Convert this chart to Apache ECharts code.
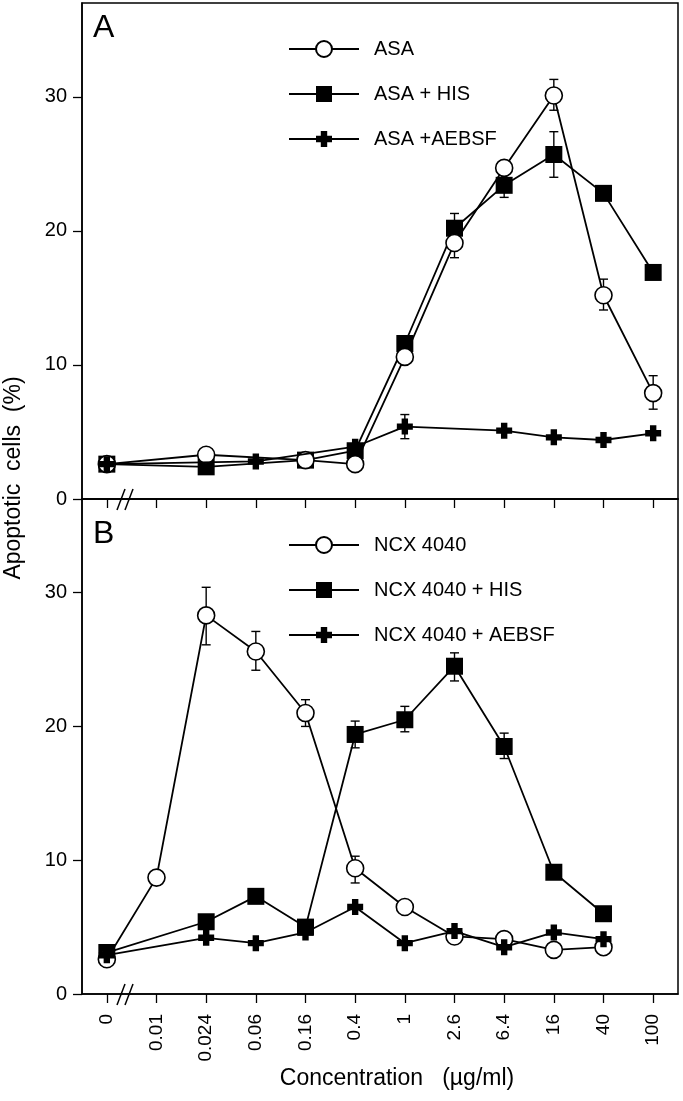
<!DOCTYPE html>
<html>
<head>
<meta charset="utf-8">
<script src="https://cdn.jsdelivr.net/npm/echarts@6/dist/echarts.min.js"></script>
<style>
html,body{margin:0;padding:0;background:#fff;}
#chart{width:683px;height:1101px;}
</style>
</head>
<body>
<div id="chart"></div>
<script>
// ---- data ----
var categories = ['0','0.01','0.024','0.06','0.16','0.4','1','2.6','6.4','16','40','100'];
var yTicks = [0, 10, 20, 30];

// Panel A
var asa      = [2.6, null, 3.3, null, 2.9, 2.6, 10.6, 19.1, 24.7, 30.1, 15.2, 7.9];
var asaHis   = [2.6, null, 2.4, null, 2.9, 3.6, 11.6, 20.2, 23.4, 25.7, 22.8, 16.9];
var asaAebsf = [2.6, null, null, 2.8, null, 3.9, 5.4, null, 5.1, 4.6, 4.4, 4.9];
var asaErrHi      = [null,null,null,null,null,null,null,null,null,31.3,16.4,9.2];
var asaErrLo      = [null,null,null,null,null,null,null,18.0,null,29.0,14.1,6.7];
var asaHisErrHi   = [null,null,null,null,null,null,null,21.3,null,27.4,null,null];
var asaHisErrLo   = [null,null,null,null,null,null,null,null,22.5,24.0,null,null];
var asaAebsfErrHi = [null,null,null,null,null,null,6.3,null,null,null,null,null];
var asaAebsfErrLo = [null,null,null,null,null,null,4.5,null,null,null,null,null];

// Panel B
var ncx      = [2.6, 8.7, 28.3, 25.6, 21.0, 9.4, 6.5, 4.3, 4.1, 3.3, 3.5, null];
var ncxHis   = [3.1, null, 5.4, 7.3, 5.0, 19.4, 20.5, 24.5, 18.5, 9.1, 6.0, null];
var ncxAebsf = [2.9, null, 4.2, 3.8, 4.6, 6.5, 3.8, 4.7, 3.5, 4.6, 4.1, null];
var ncxErrHi    = [null,null,30.4,27.1,22.0,10.3,null,null,null,null,null,null];
var ncxErrLo    = [null,null,26.1,24.2,20.0,8.3,null,null,null,null,null,null];
var ncxHisErrHi = [null,null,null,null,null,20.4,21.5,25.5,19.5,null,null,null];
var ncxHisErrLo = [null,null,null,null,null,18.4,19.6,23.4,17.6,null,null,null];

var namesA = ['ASA', 'ASA + HIS', 'ASA +AEBSF'];
var namesB = ['NCX 4040', 'NCX 4040 + HIS', 'NCX 4040 + AEBSF'];

// ---- styling ----
var FONT = "'Liberation Sans', Arial, Helvetica, sans-serif";
var crossPath = 'path://M3,0 H7 V3 H10 V7 H7 V10 H3 V7 H0 V3 H3 Z';

function lineSeries(name, data, kind, axisIdx) {
  var s = {
    name: name, type: 'line', data: data, connectNulls: true,
    xAxisIndex: axisIdx, yAxisIndex: axisIdx,
    lineStyle: {color: '#000', width: 1.8},
    showAllSymbol: true, animation: false, z: 3
  };
  if (kind === 'circle') {
    s.symbol = 'circle'; s.symbolSize = 17;
    s.itemStyle = {color: '#fff', borderColor: '#000', borderWidth: 1.6};
    s.z = 4;
  } else if (kind === 'square') {
    s.symbol = 'rect'; s.symbolSize = 17;
    s.itemStyle = {color: '#000', borderColor: '#000', borderWidth: 0};
    s.z = 3;
  } else {
    s.symbol = crossPath; s.symbolSize = 16;
    s.itemStyle = {color: '#000', borderWidth: 0};
    s.z = 5;
  }
  return s;
}

function errData(vals, errs) {
  var out = [];
  for (var i = 0; i < vals.length; i++) {
    if (errs[i] != null && vals[i] != null) out.push([i, vals[i], errs[i]]);
  }
  return out;
}

function errSeries(data, axisIdx) {
  return {
    type: 'custom', xAxisIndex: axisIdx, yAxisIndex: axisIdx, z: 2, animation: false,
    silent: true, data: data,
    renderItem: function (params, api) {
      var p0 = api.coord([api.value(0), api.value(1)]);
      var p1 = api.coord([api.value(0), api.value(2)]);
      var w = 4.5;
      var st = {stroke: '#000', lineWidth: 1.4, fill: null};
      return {
        type: 'group',
        children: [
          {type: 'line', shape: {x1: p0[0], y1: p0[1], x2: p1[0], y2: p1[1]}, style: st},
          {type: 'line', shape: {x1: p1[0] - w, y1: p1[1], x2: p1[0] + w, y2: p1[1]}, style: st}
        ]
      };
    }
  };
}

function xAxis(idx, showLabels) {
  return {
    type: 'category', data: categories, gridIndex: idx, boundaryGap: true,
    axisLine: {show: true, lineStyle: {color: '#000', width: 1.5}},
    axisTick: {show: true, alignWithLabel: true, length: 9, inside: false, lineStyle: {color: '#000', width: 1.3}},
    axisLabel: {show: showLabels, rotate: 90, margin: 20, fontSize: 19, color: '#000', fontFamily: FONT},
    splitLine: {show: false}
  };
}
function yAxis(idx) {
  return {
    type: 'value', gridIndex: idx, min: 0, max: 37, interval: 10,
    axisLine: {show: true, lineStyle: {color: '#000', width: 1.5}},
    axisTick: {show: true, length: 9, lineStyle: {color: '#000', width: 1.3}},
    axisLabel: {show: true, margin: 15, fontSize: 20, color: '#000', fontFamily: FONT,
      showMaxLabel: false,
      formatter: function (v) { return yTicks.indexOf(v) >= 0 ? String(v) : ''; }},
    splitLine: {show: false}
  };
}

function legend(names, top) {
  return {
    data: names, orient: 'vertical', left: 283, top: top,
    itemWidth: 70, itemHeight: 20, itemGap: 25,
    textStyle: {fontSize: 20, color: '#000', fontFamily: FONT, padding: [0, 0, 0, 10]},
    selectedMode: false
  };
}

function breakMark(y) {
  return [
    {type: 'line', shape: {x1: 117, y1: y + 11, x2: 125, y2: y - 10}, style: {stroke: '#000', lineWidth: 1.5}, z: 10},
    {type: 'line', shape: {x1: 125, y1: y + 11, x2: 133, y2: y - 10}, style: {stroke: '#000', lineWidth: 1.5}, z: 10}
  ];
}

var chart = echarts.init(document.getElementById('chart'), null, {renderer: 'canvas'});
var option = {
  backgroundColor: '#fff',
  animation: false,
  textStyle: {fontFamily: FONT},
  grid: [
    {left: 82, top: 3, width: 596, height: 496, show: true, borderColor: '#000', borderWidth: 1.5, backgroundColor: 'transparent'},
    {left: 82, top: 499, width: 596, height: 495, show: true, borderColor: '#000', borderWidth: 1.5, backgroundColor: 'transparent'}
  ],
  xAxis: [xAxis(0, false), xAxis(1, true)],
  yAxis: [yAxis(0), yAxis(1)],
  legend: [legend(namesA, 34), legend(namesB, 530)],
  series: [
    errSeries(errData(asa, asaErrHi).concat(errData(asa, asaErrLo))
      .concat(errData(asaHis, asaHisErrHi)).concat(errData(asaHis, asaHisErrLo))
      .concat(errData(asaAebsf, asaAebsfErrHi)).concat(errData(asaAebsf, asaAebsfErrLo)), 0),
    lineSeries(namesA[1], asaHis, 'square', 0),
    lineSeries(namesA[0], asa, 'circle', 0),
    lineSeries(namesA[2], asaAebsf, 'cross', 0),
    errSeries(errData(ncx, ncxErrHi).concat(errData(ncx, ncxErrLo))
      .concat(errData(ncxHis, ncxHisErrHi)).concat(errData(ncxHis, ncxHisErrLo)), 1),
    lineSeries(namesB[1], ncxHis, 'square', 1),
    lineSeries(namesB[0], ncx, 'circle', 1),
    lineSeries(namesB[2], ncxAebsf, 'cross', 1)
  ],
  graphic: [
    {type: 'text', left: 93, top: 12, style: {text: 'A', fontSize: 32, fill: '#000', fontFamily: FONT}},
    {type: 'text', left: 93, top: 518, style: {text: 'B', fontSize: 32, fill: '#000', fontFamily: FONT}},
    {type: 'text', x: 14, y: 478, rotation: Math.PI / 2,
      style: {text: 'Apoptotic  cells  (%)', fontSize: 23, fill: '#000', fontFamily: FONT, align: 'center', verticalAlign: 'middle'}},
    {type: 'text', x: 397, y: 1079,
      style: {text: 'Concentration   (\u00b5g/ml)', fontSize: 23, fill: '#000', fontFamily: FONT, align: 'center', verticalAlign: 'middle'}}
  ].concat(breakMark(499)).concat(breakMark(994))
};
chart.setOption(option);
</script>
</body>
</html>
